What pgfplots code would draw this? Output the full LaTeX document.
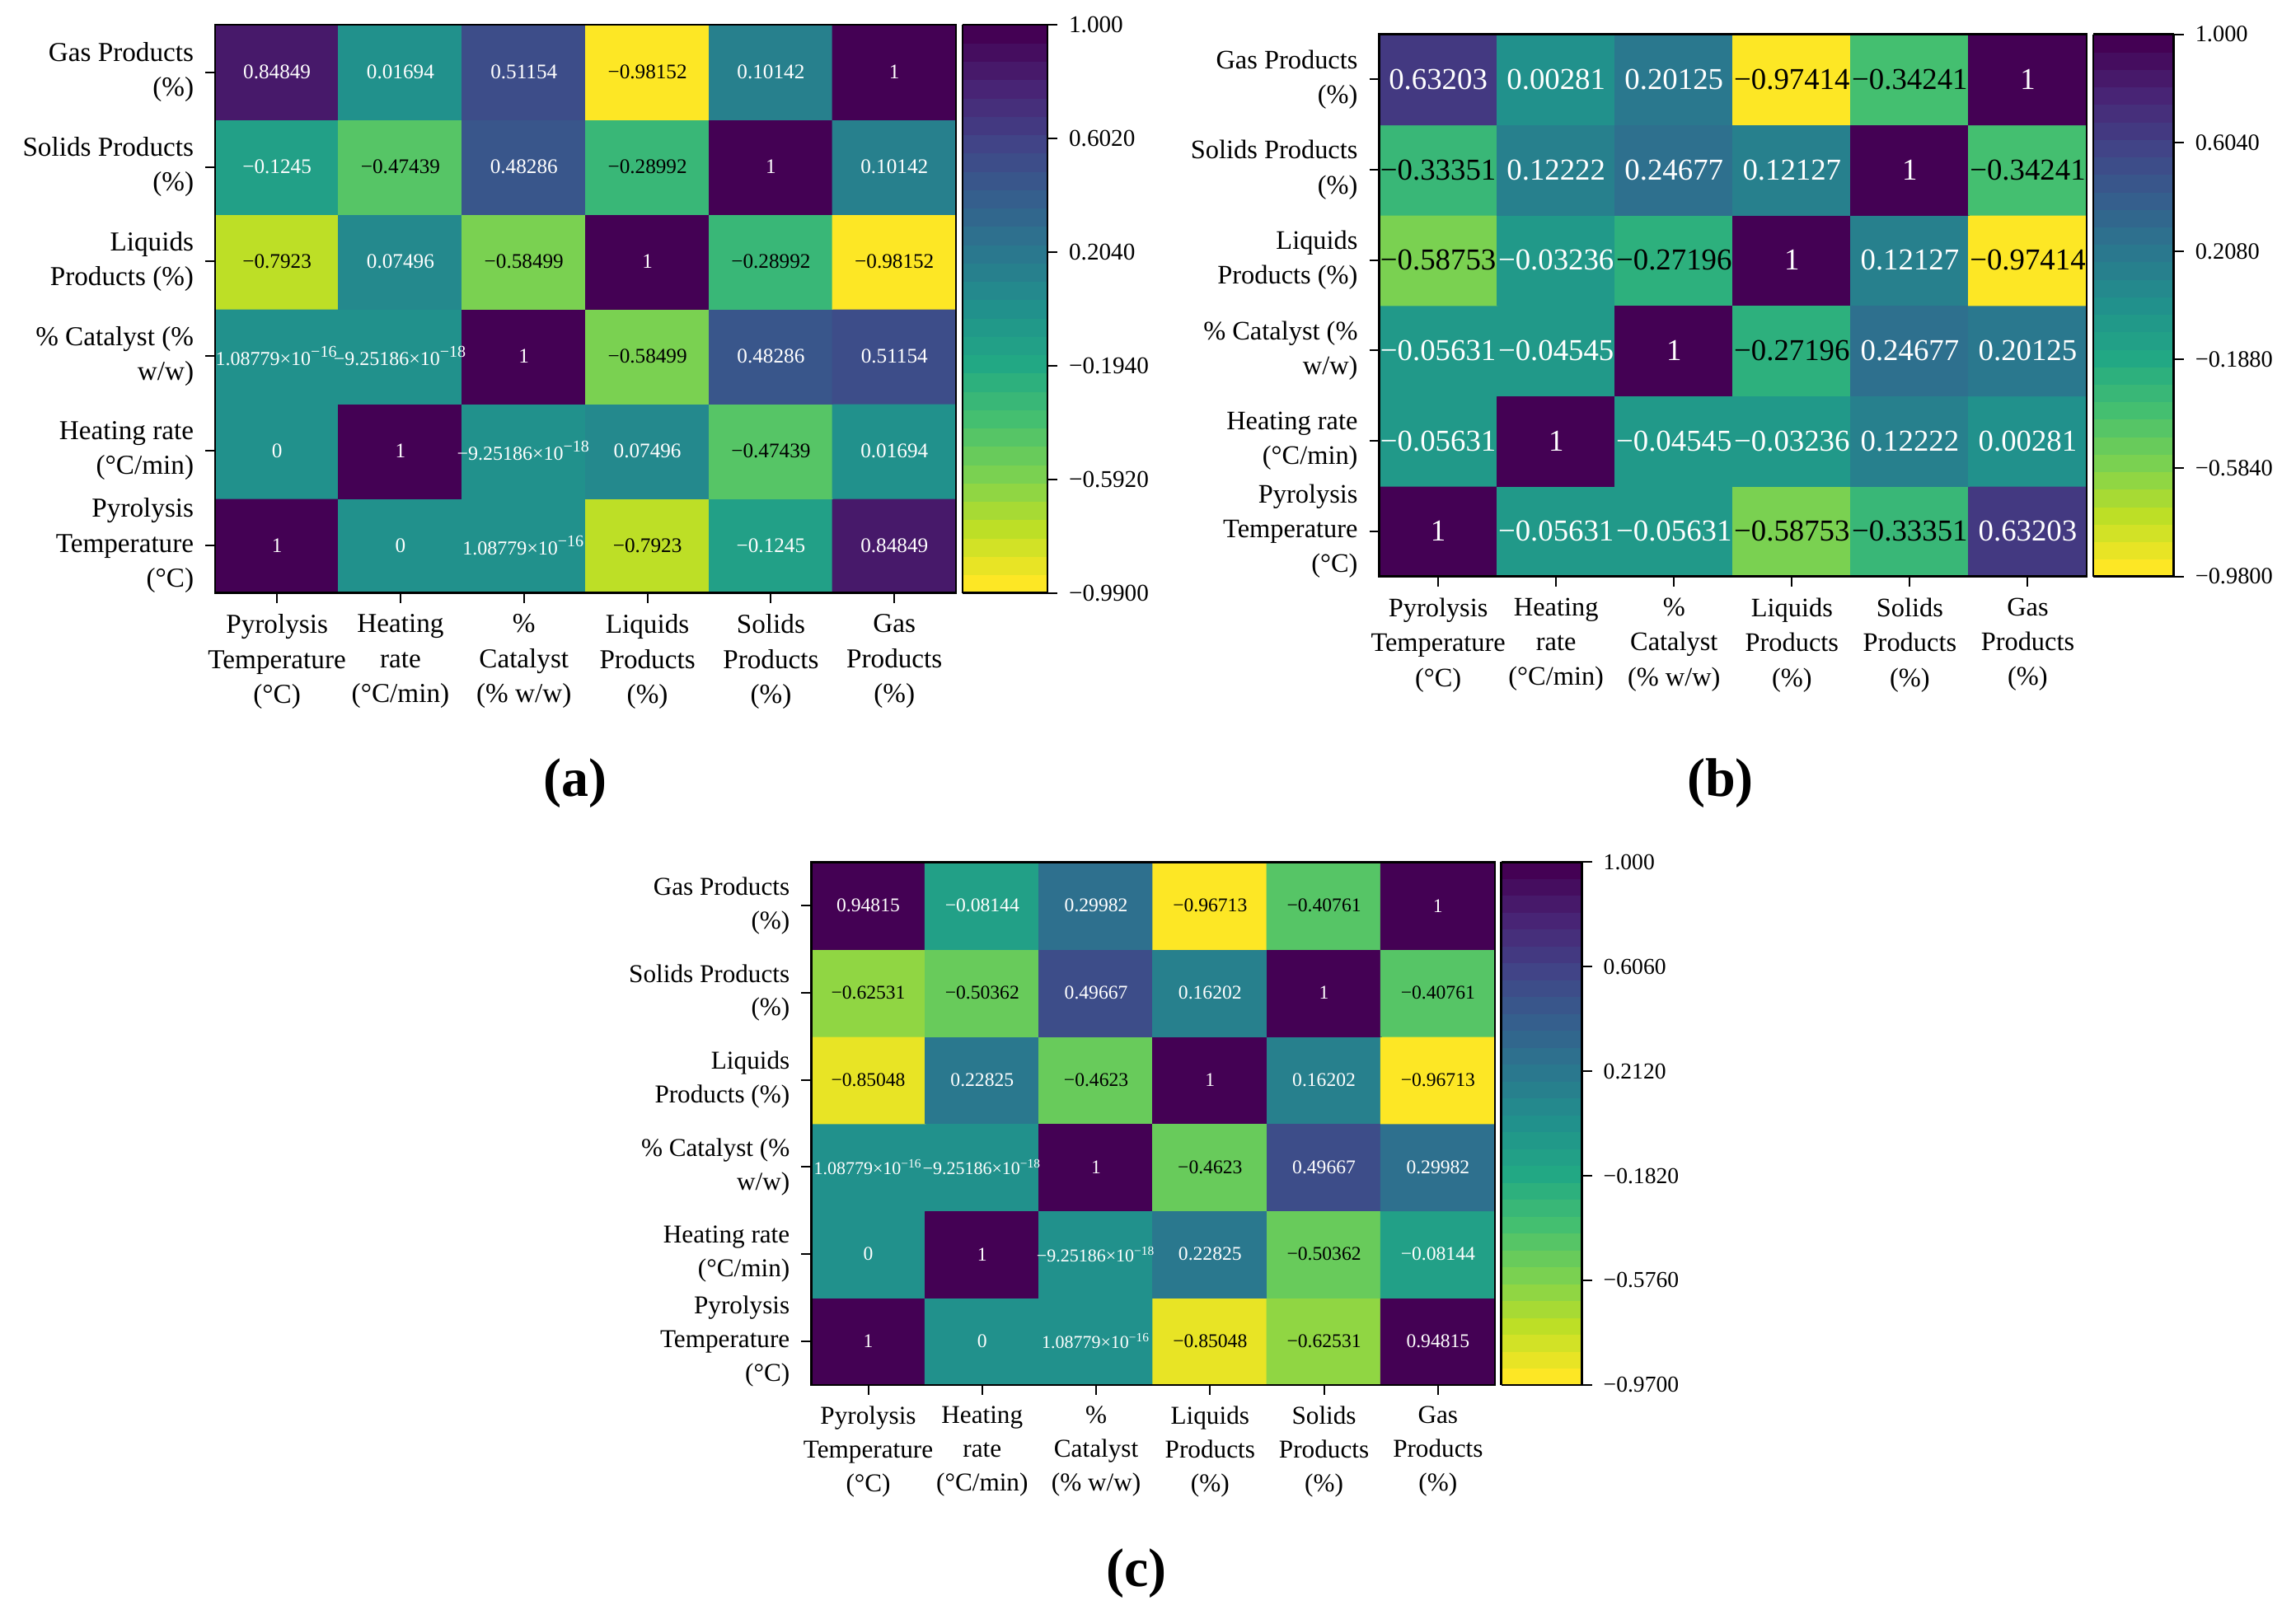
\documentclass[border=0pt]{standalone}
\usepackage{fontspec}
\setmainfont{Liberation Serif}
\usepackage{pgfplots}
\pgfplotsset{compat=1.18}
\pgfplotsset{
  colormap={rvir}{rgb255=(253,231,37) rgb255=(189,223,38) rgb255=(122,209,81) rgb255=(68,191,112) rgb255=(34,168,132) rgb255=(33,145,140) rgb255=(42,120,142) rgb255=(53,95,141) rgb255=(65,68,135) rgb255=(72,36,117) rgb255=(68,1,84)},
  colormap={rvir30}{samples of colormap={31 of rvir}},
  hm/.style={
    scale only axis, enlargelimits=false, anchor=north west,
    xmin=-0.5, xmax=5.5, ymin=-0.5, ymax=5.5,
    xtick={0,...,5}, ytick={0,...,5},
    xtick pos=left, ytick pos=left,
    tick align=outside, major tick length=3pt,
    tick style={black, line width=0.5pt},
    axis line style={line width=0.6pt},
    xticklabels={{Pyrolysis\\Temperature\\(°C)},{Heating\\rate\\(°C/min)},{\%\\Catalyst\\(\% w/w)},{Liquids\\Products\\(\%)},{Solids\\Products\\(\%)},{Gas\\Products\\(\%)}},
    yticklabels={{Pyrolysis\\Temperature\\(°C)},{Heating rate\\(°C/min)},{\% Catalyst (\%\\w/w)},{Liquids\\Products (\%)},{Solids Products\\(\%)},{Gas Products\\(\%)}},
    xticklabel style={align=center},
    yticklabel style={align=right},
    colormap name=rvir30, colormap access=piecewise constant,
    axis on top,
    colorbar,
    colorbar style={scale only axis, at={(parent axis.north east)}, anchor=north west,
      xshift=-0.3cm,
      tick align=outside, major tick length=3pt, tick style={black, line width=0.5pt},
      axis line style={line width=0.6pt}, ytick pos=right, yticklabel pos=right},
  },
  lw/.style={draw=none, mark=none, nodes near coords, point meta=explicit symbolic,
    nodes near coords align=center,
    every node near coord/.append style={text=white, inner sep=0pt, font=#1}},
  lb/.style={draw=none, mark=none, nodes near coords, point meta=explicit symbolic,
    nodes near coords align=center,
    every node near coord/.append style={text=black, inner sep=0pt, font=#1}},
}
\newcommand\sciA{1.08779×10\textsuperscript{−16}}
\newcommand\sciB{−9.25186×10\textsuperscript{−18}}
\begin{document}
\begin{tikzpicture}
\useasboundingbox (0,0) rectangle (696.5pt,-491pt);

% ---------------- (a) ----------------
\begin{axis}[hm, at={(65.3pt,-7.55pt)}, width=224.75pt, height=172.35pt,
  point meta min=-0.99, point meta max=1,
  xticklabel style={font=\fontsize{8.3}{10.6}\selectfont},
  yticklabel style={font=\fontsize{8.3}{10.6}\selectfont},
  colorbar style={width=25.8pt, xshift=1.9pt,
    ytick={-0.99,-0.592,-0.194,0.204,0.602,1},
    yticklabels={−0.9900,−0.5920,−0.1940,0.2040,0.6020,1.000},
    yticklabel style={font=\fontsize{7.3}{8}\selectfont}}]
\addplot[matrix plot*, mesh/cols=6, point meta=explicit] coordinates {
(0,0)[1] (1,0)[0] (2,0)[1.08779e-16] (3,0)[-0.7923] (4,0)[-0.1245] (5,0)[0.84849]
(0,1)[0] (1,1)[1] (2,1)[-9.25186e-18] (3,1)[0.07496] (4,1)[-0.47439] (5,1)[0.01694]
(0,2)[1.08779e-16] (1,2)[-9.25186e-18] (2,2)[1] (3,2)[-0.58499] (4,2)[0.48286] (5,2)[0.51154]
(0,3)[-0.7923] (1,3)[0.07496] (2,3)[-0.58499] (3,3)[1] (4,3)[-0.28992] (5,3)[-0.98152]
(0,4)[-0.1245] (1,4)[-0.47439] (2,4)[0.48286] (3,4)[-0.28992] (4,4)[1] (5,4)[0.10142]
(0,5)[0.84849] (1,5)[0.01694] (2,5)[0.51154] (3,5)[-0.98152] (4,5)[0.10142] (5,5)[1]
};
\addplot[lw={\fontsize{6.3}{7}\selectfont}] coordinates {
(0,0)[1] (1,0)[0] (4,0)[−0.1245] (5,0)[0.84849]
(0,1)[0] (1,1)[1] (3,1)[0.07496] (5,1)[0.01694]
(2,2)[1] (4,2)[0.48286] (5,2)[0.51154]
(1,3)[0.07496] (3,3)[1]
(0,4)[−0.1245] (2,4)[0.48286] (4,4)[1] (5,4)[0.10142]
(0,5)[0.84849] (1,5)[0.01694] (2,5)[0.51154] (4,5)[0.10142] (5,5)[1]
};
\addplot[lw={\fontsize{6.0}{7}\selectfont}] coordinates {
(2,0)[\sciA] (2,1)[\sciB] (0,2)[\sciA] (1,2)[\sciB]
};
\addplot[lb={\fontsize{6.3}{7}\selectfont}] coordinates {
(3,0)[−0.7923] (4,1)[−0.47439] (3,2)[−0.58499] (0,3)[−0.7923] (2,3)[−0.58499]
(4,3)[−0.28992] (5,3)[−0.98152] (1,4)[−0.47439] (3,4)[−0.28992] (3,5)[−0.98152]
};
\end{axis}

% ---------------- (b) ----------------
\begin{axis}[hm, at={(418.4pt,-10.4pt)}, width=214.6pt, height=164.5pt,
  point meta min=-0.98, point meta max=1,
  xticklabel style={font=\fontsize{8.1}{10.6}\selectfont},
  yticklabel style={font=\fontsize{8.1}{10.6}\selectfont},
  colorbar style={width=24.4pt, xshift=2pt,
    ytick={-0.98,-0.584,-0.188,0.208,0.604,1},
    yticklabels={−0.9800,−0.5840,−0.1880,0.2080,0.6040,1.000},
    yticklabel style={font=\fontsize{7.1}{8}\selectfont}}]
\addplot[matrix plot*, mesh/cols=6, point meta=explicit] coordinates {
(0,0)[1] (1,0)[-0.05631] (2,0)[-0.05631] (3,0)[-0.58753] (4,0)[-0.33351] (5,0)[0.63203]
(0,1)[-0.05631] (1,1)[1] (2,1)[-0.04545] (3,1)[-0.03236] (4,1)[0.12222] (5,1)[0.00281]
(0,2)[-0.05631] (1,2)[-0.04545] (2,2)[1] (3,2)[-0.27196] (4,2)[0.24677] (5,2)[0.20125]
(0,3)[-0.58753] (1,3)[-0.03236] (2,3)[-0.27196] (3,3)[1] (4,3)[0.12127] (5,3)[-0.97414]
(0,4)[-0.33351] (1,4)[0.12222] (2,4)[0.24677] (3,4)[0.12127] (4,4)[1] (5,4)[-0.34241]
(0,5)[0.63203] (1,5)[0.00281] (2,5)[0.20125] (3,5)[-0.97414] (4,5)[-0.34241] (5,5)[1]
};
\addplot[lw={\fontsize{9.2}{10}\selectfont}] coordinates {
(0,0)[1] (1,0)[−0.05631] (2,0)[−0.05631] (5,0)[0.63203]
(0,1)[−0.05631] (1,1)[1] (2,1)[−0.04545] (3,1)[−0.03236] (4,1)[0.12222] (5,1)[0.00281]
(0,2)[−0.05631] (1,2)[−0.04545] (2,2)[1] (4,2)[0.24677] (5,2)[0.20125]
(1,3)[−0.03236] (3,3)[1] (4,3)[0.12127]
(1,4)[0.12222] (2,4)[0.24677] (3,4)[0.12127] (4,4)[1]
(0,5)[0.63203] (1,5)[0.00281] (2,5)[0.20125] (5,5)[1]
};
\addplot[lb={\fontsize{9.2}{10}\selectfont}] coordinates {
(3,0)[−0.58753] (4,0)[−0.33351] (3,2)[−0.27196] (0,3)[−0.58753] (2,3)[−0.27196]
(5,3)[−0.97414] (0,4)[−0.33351] (5,4)[−0.34241] (3,5)[−0.97414] (4,5)[−0.34241]
};
\end{axis}

% ---------------- (c) ----------------
\begin{axis}[hm, at={(246.1pt,-261.6pt)}, width=207.4pt, height=158.6pt,
  point meta min=-0.97, point meta max=1,
  xticklabel style={font=\fontsize{7.8}{10.2}\selectfont},
  yticklabel style={font=\fontsize{7.8}{10.2}\selectfont},
  colorbar style={width=24.5pt, xshift=1.9pt,
    ytick={-0.97,-0.576,-0.182,0.212,0.606,1},
    yticklabels={−0.9700,−0.5760,−0.1820,0.2120,0.6060,1.000},
    yticklabel style={font=\fontsize{6.9}{8}\selectfont}}]
\addplot[matrix plot*, mesh/cols=6, point meta=explicit] coordinates {
(0,0)[1] (1,0)[0] (2,0)[1.08779e-16] (3,0)[-0.85048] (4,0)[-0.62531] (5,0)[0.94815]
(0,1)[0] (1,1)[1] (2,1)[-9.25186e-18] (3,1)[0.22825] (4,1)[-0.50362] (5,1)[-0.08144]
(0,2)[1.08779e-16] (1,2)[-9.25186e-18] (2,2)[1] (3,2)[-0.4623] (4,2)[0.49667] (5,2)[0.29982]
(0,3)[-0.85048] (1,3)[0.22825] (2,3)[-0.4623] (3,3)[1] (4,3)[0.16202] (5,3)[-0.96713]
(0,4)[-0.62531] (1,4)[-0.50362] (2,4)[0.49667] (3,4)[0.16202] (4,4)[1] (5,4)[-0.40761]
(0,5)[0.94815] (1,5)[-0.08144] (2,5)[0.29982] (3,5)[-0.96713] (4,5)[-0.40761] (5,5)[1]
};
\addplot[lw={\fontsize{5.9}{7}\selectfont}] coordinates {
(0,0)[1] (1,0)[0] (5,0)[0.94815]
(0,1)[0] (1,1)[1] (3,1)[0.22825] (5,1)[−0.08144]
(2,2)[1] (4,2)[0.49667] (5,2)[0.29982]
(1,3)[0.22825] (3,3)[1] (4,3)[0.16202]
(2,4)[0.49667] (3,4)[0.16202] (4,4)[1]
(0,5)[0.94815] (1,5)[−0.08144] (2,5)[0.29982] (5,5)[1]
};
\addplot[lw={\fontsize{5.5}{7}\selectfont}] coordinates {
(2,0)[\sciA] (2,1)[\sciB] (0,2)[\sciA] (1,2)[\sciB]
};
\addplot[lb={\fontsize{5.9}{7}\selectfont}] coordinates {
(3,0)[−0.85048] (4,0)[−0.62531] (4,1)[−0.50362] (3,2)[−0.4623] (0,3)[−0.85048] (2,3)[−0.4623]
(5,3)[−0.96713] (0,4)[−0.62531] (1,4)[−0.50362] (5,4)[−0.40761] (3,5)[−0.96713] (4,5)[−0.40761]
};
\end{axis}

\node[font=\bfseries\fontsize{16.5}{18}\selectfont] at (174.6pt,-237.7pt) {(a)};
\node[font=\bfseries\fontsize{16.5}{18}\selectfont] at (521.9pt,-237.7pt) {(b)};
\node[font=\bfseries\fontsize{16.5}{18}\selectfont] at (344.7pt,-477.5pt) {(c)};
\end{tikzpicture}
\end{document}
